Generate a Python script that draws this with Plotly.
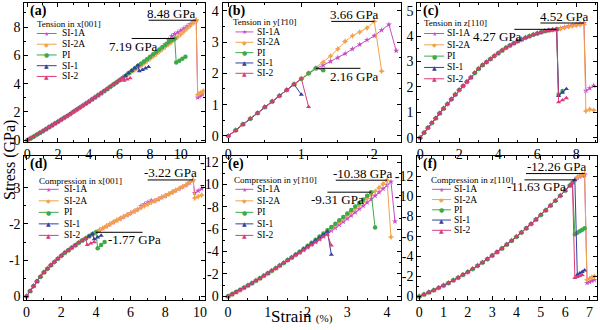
import plotly.graph_objects as go

W, H = 600, 330
FONT = "Liberation Serif, Times New Roman, serif"

NAMES = ["SI-1A", "SI-2A", "PI", "SI-1", "SI-2"]
COLORS = {"SI-1A": "#c84cc8", "SI-2A": "#f2a24a", "PI": "#3daa48",
          "SI-1": "#343f9e", "SI-2": "#dc3a78"}
SYMBOLS = {"SI-1A": "star", "SI-2A": "star-diamond", "PI": "circle",
           "SI-1": "triangle-up", "SI-2": "triangle-up"}
GLYPHS = {"SI-1A": "\u2605", "SI-2A": "\u25c6", "PI": "\u25cf", "SI-1": "\u25b2", "SI-2": "\u25b2"}

# ---------------- (a) tension along x[001] ----------------
a_strain = [0.0, 0.2, 0.4, 0.6, 0.8, 1.0, 1.2, 1.4, 1.6, 1.8, 2.0, 2.2, 2.4, 2.6, 2.8, 3.0,
            3.2, 3.4, 3.6, 3.8, 4.0, 4.2, 4.4, 4.6, 4.8, 5.0, 5.2, 5.4, 5.6, 5.8, 6.0, 6.2, 6.4]
a_base = [0.0, 0.13, 0.25, 0.38, 0.51, 0.64, 0.77, 0.91, 1.04, 1.18, 1.31, 1.45, 1.59, 1.72,
          1.86, 2.01, 2.15, 2.29, 2.43, 2.58, 2.72, 2.87, 3.02, 3.17, 3.32, 3.47, 3.62, 3.78,
          3.93, 4.08, 4.24, 4.40, 4.56]
a_long_x = [6.6, 6.8, 7.0, 7.2, 7.4, 7.6, 7.8, 8.0, 8.2, 8.4, 8.6, 8.8, 9.0, 9.2, 9.4, 9.6,
            9.8, 10.0, 10.2, 10.4, 10.6, 10.8, 11.0]
a_si2a_tail = [4.69, 4.83, 4.97, 5.12, 5.27, 5.43, 5.59, 5.75, 5.92, 6.09, 6.26, 6.43, 6.60,
               6.77, 6.94, 7.12, 7.30, 7.49, 7.68, 7.88, 8.08, 8.28, 8.48]
a_si1a_tail = [4.72, 4.88, 5.04, 5.20, 5.36, 5.53, 5.69, 5.86, 6.03, 6.20, 6.36, 6.54, 6.78,
               7.10, 7.35, 7.50, 7.62, 7.76, 7.90, 8.04, 8.19, 8.34, 8.48]
a_pi_tail = [4.75, 4.91, 5.08, 5.24, 5.40, 5.57, 5.73, 5.90, 6.07, 6.24, 6.41, 6.58, 6.75,
             6.92, 7.06, 7.19]
a_series = {
    "SI-1A": (33, a_long_x + [11.1, 11.2, 11.3, 11.4], a_si1a_tail + [3.02, 3.10, 3.18, 3.25]),
    "SI-2A": (33, a_long_x + [11.1, 11.2, 11.3, 11.4, 11.5], a_si2a_tail + [3.22, 3.28, 3.35, 3.42, 3.48]),
    "PI": (33, a_long_x[:16] + [9.7, 9.9, 10.1, 10.3], a_pi_tail + [5.49, 5.62, 5.76, 5.90]),
    "SI-1": (33, [6.6, 6.8, 7.0, 7.2, 7.3, 7.5, 7.7, 7.9], [4.74, 4.92, 5.10, 5.30, 4.88, 4.98, 5.08, 5.18]),
    "SI-2": (32, [6.3, 6.5, 6.7], [4.22, 4.30, 4.38]),
}

# ---------------- (b) tension along y[1-10] ----------------
b_strain = [0.0, 0.1, 0.2, 0.3, 0.4, 0.5, 0.6, 0.7, 0.8, 0.9, 1.0, 1.1, 1.2]
b_base = [0.0, 0.18, 0.37, 0.55, 0.73, 0.92, 1.10, 1.28, 1.47, 1.65, 1.83, 2.00, 2.16]
b_series = {
    "SI-1A": (13, [1.3, 1.4, 1.5, 1.6, 1.7, 1.8, 1.9, 2.0, 2.1, 2.2, 2.3],
              [2.26, 2.38, 2.50, 2.63, 2.78, 2.92, 3.07, 3.20, 3.38, 3.56, 2.72]),
    "SI-2A": (13, [1.3, 1.4, 1.5, 1.6, 1.7, 1.8, 1.9, 2.0, 2.1],
              [2.35, 2.55, 2.78, 3.02, 3.20, 3.32, 3.45, 3.66, 2.07]),
    "PI": (13, [1.3], [2.10]),
    "SI-1": (10, [1.0], [1.32]),
    "SI-2": (11, [1.1], [0.93]),
}

# ---------------- (c) tension along z[110] ----------------
c_strain = [0.0, 0.2, 0.4, 0.6, 0.8, 1.0, 1.2, 1.4, 1.6, 1.8, 2.0, 2.2, 2.4, 2.6, 2.8, 3.0,
            3.2, 3.4, 3.6, 3.8, 4.0, 4.2, 4.4, 4.6, 4.8, 5.0, 5.2, 5.4, 5.6, 5.8, 6.0, 6.2,
            6.4, 6.6, 6.8, 7.0]
c_base = [0.0, 0.20, 0.39, 0.58, 0.77, 0.96, 1.15, 1.33, 1.52, 1.70, 1.88, 2.04, 2.20, 2.37,
          2.55, 2.72, 2.86, 2.98, 3.10, 3.22, 3.33, 3.44, 3.54, 3.63, 3.72, 3.80, 3.87, 3.94,
          4.00, 4.06, 4.11, 4.16, 4.20, 4.23, 4.25, 4.27]
c_long_x = [7.2, 7.4, 7.6, 7.8, 8.0, 8.2, 8.4, 8.5, 8.7, 8.9]
c_series = {
    "SI-1A": (36, c_long_x, [4.31, 4.35, 4.39, 4.43, 4.46, 4.49, 4.52, 1.85, 1.95, 2.05]),
    "SI-2A": (36, c_long_x, [4.30, 4.34, 4.38, 4.41, 4.43, 4.45, 4.47, 1.05, 1.12, 1.08]),
    "PI": (36, [7.1, 7.3], [1.70, 1.84]),
    "SI-1": (36, [7.1, 7.3, 7.5], [1.65, 1.78, 1.92]),
    "SI-2": (36, [7.1, 7.3, 7.5], [1.40, 1.48, 1.56]),
}

# ---------------- (d) compression along x[001] ----------------
d_strain = [0.0, 0.2, 0.4, 0.6, 0.8, 1.0, 1.2, 1.4, 1.6, 1.8, 2.0, 2.2, 2.4, 2.6, 2.8, 3.0,
            3.2, 3.4, 3.6, 3.8, 4.0, 4.2, 4.4, 4.6, 4.8, 5.0, 5.2, 5.4, 5.6, 5.8, 6.0, 6.2,
            6.4, 6.6, 6.8, 7.0, 7.2, 7.4, 7.6, 7.8, 8.0, 8.2, 8.4, 8.6, 8.8, 9.0, 9.2, 9.4, 9.6]
d_base = [0.0, -0.14, -0.28, -0.41, -0.54, -0.66, -0.76, -0.86, -0.95, -1.04, -1.12, -1.20,
          -1.27, -1.34, -1.41, -1.48, -1.54, -1.60, -1.66, -1.72, -1.77, -1.83, -1.88, -1.94,
          -1.99, -2.05, -2.10, -2.15, -2.20, -2.25, -2.30, -2.35, -2.40, -2.45, -2.50, -2.55,
          -2.60, -2.64, -2.69, -2.74, -2.78, -2.83, -2.88, -2.93, -2.98, -3.03, -3.08, -3.15,
          -3.22]
d_series = {
    "SI-1A": (33, d_strain[33:] + [9.7, 9.9, 10.1],
              [-2.50, -2.55, -2.60, -2.65, -2.64, -2.69, -2.74, -2.78, -2.83, -2.88, -2.93,
               -2.98, -3.03, -3.08, -3.15, -3.22, -2.86, -2.92, -2.98]),
    "SI-2A": (49, [9.7, 9.9, 10.1], [-2.72, -2.76, -2.80]),
    "PI": (21, [4.1, 4.3, 4.5], [-1.33, -1.42, -1.50]),
    "SI-1": (20, [3.9, 4.1, 4.3], [-1.58, -1.63, -1.68]),
    "SI-2": (18, [3.5, 3.7, 3.9], [-1.42, -1.46, -1.50]),
}

# ---------------- (e) compression along y[1-10] ----------------
e_strain = [0.0, 0.1, 0.2, 0.3, 0.4, 0.5, 0.6, 0.7, 0.8, 0.9, 1.0, 1.1, 1.2, 1.3, 1.4, 1.5]
e_base = [0.0, -0.19, -0.38, -0.57, -0.77, -0.98, -1.18, -1.40, -1.61, -1.83, -2.06, -2.28,
          -2.52, -2.75, -2.99, -3.24]
e_tail_x = [1.6, 1.7, 1.8, 1.9, 2.0, 2.1, 2.2, 2.3, 2.4, 2.5, 2.6, 2.7, 2.8, 2.9, 3.0, 3.1,
            3.2, 3.3, 3.4, 3.5, 3.6, 3.7, 3.8, 3.9, 4.0, 4.1, 4.2]
e_si1a_tail = [-3.45, -3.68, -3.90, -4.14, -4.37, -4.61, -4.85, -5.10, -5.35, -5.61, -5.87,
               -6.13, -6.40, -6.67, -6.95, -7.23, -7.51, -7.80, -8.09, -8.39, -8.68, -8.99,
               -9.30, -9.61, -9.93, -10.25, -6.70]
e_si2a_tail = [-3.47, -3.72, -3.95, -4.21, -4.46, -4.72, -4.98, -5.24, -5.51, -5.79, -6.07,
               -6.35, -6.63, -6.92, -7.22, -7.52, -7.82, -8.12, -8.43, -8.75, -9.06, -9.39,
               -9.71, -10.04, -10.38, -5.30]
e_pi_tail = [-3.48, -3.74, -3.99, -4.26, -4.52, -4.79, -5.06, -5.34, -5.62, -5.91, -6.20,
             -6.49, -6.79, -7.09, -7.40, -7.71, -8.02, -8.34, -8.66, -8.99, -9.31, -6.15]
e_series = {
    "SI-1A": (16, e_tail_x, e_si1a_tail),
    "SI-2A": (16, e_tail_x[:26], e_si2a_tail),
    "PI": (16, e_tail_x[:22], e_pi_tail),
    "SI-1": (16, e_tail_x[:11], [-3.47, -3.72, -3.95, -4.21, -4.46, -4.72, -4.98, -5.24,
                                 -5.51, -5.79, -3.72]),
    "SI-2": (16, e_tail_x[:11], [-3.45, -3.68, -3.90, -4.14, -4.37, -4.61, -4.85, -5.10,
                                 -5.35, -5.55, -4.55]),
}

# ---------------- (f) compression along z[110] ----------------
f_strain = [0.0, 0.2, 0.4, 0.6, 0.8, 1.0, 1.2, 1.4, 1.6, 1.8, 2.0, 2.2, 2.4, 2.6, 2.8, 3.0,
            3.2, 3.4, 3.6, 3.8, 4.0, 4.2, 4.4, 4.6, 4.8, 5.0, 5.2, 5.4, 5.6, 5.8, 6.0, 6.2, 6.4]
f_base = [0.0, -0.20, -0.40, -0.62, -0.85, -1.09, -1.33, -1.60, -1.87, -2.15, -2.44, -2.74,
          -3.06, -3.38, -3.72, -4.07, -4.42, -4.79, -5.17, -5.56, -5.96, -6.37, -6.79, -7.23,
          -7.67, -8.13, -8.59, -9.07, -9.55, -10.05, -10.56, -11.08, -11.63]
f_long_x = [6.5, 6.6, 6.7, 6.8, 6.9, 7.0, 7.1, 7.2]
f_series = {
    "SI-1A": (33, f_long_x, [-11.85, -11.95, -12.05, -12.12, -1.35, -1.45, -1.55, -1.65]),
    "SI-2A": (33, f_long_x, [-11.90, -12.05, -12.15, -12.26, -1.65, -1.78, -1.90, -2.00]),
    "PI": (32, [6.3, 6.4, 6.5, 6.6, 6.7, 6.8], [-11.35, -6.20, -6.35, -6.50, -6.65, -6.80]),
    "SI-1": (33, [6.5, 6.6, 6.7, 6.8], [-2.15, -2.30, -2.45, -2.60]),
    "SI-2": (32, [6.3, 6.4, 6.5, 6.6, 6.7], [-11.35, -1.85, -1.95, -2.05, -2.15]),
}

# ---------------- panel layout ----------------
COLS = [(22.5, 204), (222, 402), (418, 599)]   # pixel spans
ROWS = [(2, 144), (159, 306)]

panels = [
    dict(key="a", title="Tension in x[001]", strain=a_strain, base=a_base, series=a_series,
         col=0, row=0, xr=[-0.19, 11.55], yr=[-0.09, 9.7], xd=2, xm=1,
         yt=[0, 2, 4, 6, 8], ym=1,
         peaks=[("SI-2A", 7.9, 9.4, 7), ("PI", 6.8, 6.9, -8)],
         leg=dict(tx=35, ty=23.5, y0=33.3, dy=11.0, lx0=35, lx1=55, txt=60)),
    dict(key="b", title="Tension in y[1\u030410]", strain=b_strain, base=b_base, series=b_series,
         col=1, row=0, xr=[-0.08, 2.37], yr=[-0.18, 4.25], xd=1, xm=0.5,
         yt=[0, 1, 2, 3, 4], ym=0.5,
         peaks=[("SI-2A", 1.41, 1.73, 7), ("PI", None, 1.73, -8)],
         leg=dict(tx=233, ty=22, y0=31.7, dy=10.6, lx0=235, lx1=253, txt=257)),
    dict(key="c", title="Tension in z[110]", strain=c_strain, base=c_base, series=c_series,
         col=2, row=0, xr=[-0.15, 9.07], yr=[-0.15, 5.31], xd=2, xm=1,
         yt=[0, 1, 2, 3, 4, 5], ym=0.5,
         peaks=[("SI-1A", 6.17, 7.4, 7), ("SI-1", 4.83, 3.95, -7)],
         leg=dict(tx=425, ty=22.5, y0=33.3, dy=11.6, lx0=425, lx1=445, txt=448)),
    dict(key="d", title="Compression in x[001]", strain=d_strain, base=d_base, series=d_series,
         col=0, row=1, xr=[-0.13, 10.27], yr=[0.095, -3.88], xd=2, xm=1,
         yt=[0, -1, -2, -3], ym=0.5,
         peaks=[("SI-2A", 6.98, 8.3, 7), ("PI", None, 6.25, -7)],
         leg=dict(tx=37, ty=184, y0=193, dy=11.8, lx0=37, lx1=57, txt=62)),
    dict(key="e", title="Compression in y[1\u030410]", strain=e_strain, base=e_base, series=e_series,
         col=1, row=1, xr=[-0.14, 4.36], yr=[0.29, -12.53], xd=1, xm=0.5,
         yt=[0, -2, -4, -6, -8, -10, -12], ym=1,
         peaks=[("SI-2A", 2.71, 3.38, 7), ("PI", 2.5, 2.75, -7)],
         leg=dict(tx=234, ty=183.5, y0=193, dy=11.8, lx0=235, lx1=253, txt=257)),
    dict(key="f", title="Compression in z[110]", strain=f_strain, base=f_base, series=f_series,
         col=2, row=1, xr=[-0.08, 7.31], yr=[0.32, -14.0], xd=1, xm=0.5,
         yt=[0, -2, -4, -6, -8, -10, -12], ym=1,
         peaks=[("SI-2A", 4.39, 5.64, 7), ("SI-1", 4.33, 4.81, -7)],
         leg=dict(tx=432, ty=183.5, y0=193, dy=10.5, lx0=433, lx1=452, txt=455)),
]

# end points of the reference lines that run from the peak to the right
LINE_RIGHT = {"b": 1.81, "d": 6.69}


def px(x):
    return x / W


def py(y):
    return 1 - y / H


fig = go.Figure()
layout = dict(width=W, height=H, margin=dict(l=0, r=0, t=0, b=0),
              paper_bgcolor="white", plot_bgcolor="white", showlegend=False,
              font=dict(family=FONT, size=14, color="black"))
annotations = []
shapes = []

axis_common = dict(showline=True, linecolor="black", linewidth=1, mirror="allticks",
                   ticks="inside", ticklen=4, tickwidth=1, tickcolor="black",
                   showgrid=False, zeroline=False,
                   tickfont=dict(family=FONT, size=14, color="black"))

for i, p in enumerate(panels):
    n = "" if i == 0 else str(i + 1)
    xa, ya = "x" + n, "y" + n
    c0, c1 = COLS[p["col"]]
    r0, r1 = ROWS[p["row"]]
    layout["xaxis" + n] = dict(axis_common, domain=[px(c0), px(c1)], range=p["xr"],
                               anchor=ya, dtick=p["xd"], tick0=0,
                               minor=dict(ticks="inside", ticklen=2, tickwidth=1,
                                          tickcolor="black", dtick=p["xm"], showgrid=False))
    layout["yaxis" + n] = dict(axis_common, domain=[py(r1), py(r0)], range=p["yr"],
                               anchor=xa, tickmode="array", tickvals=p["yt"],
                               ticktext=[str(v) for v in p["yt"]],
                               minor=dict(ticks="inside", ticklen=2, tickwidth=1,
                                          tickcolor="black", dtick=p["ym"], showgrid=False))

    # curves
    curves = {}
    for name in NAMES:
        k, tx, ty = p["series"][name]
        xs = p["strain"][:k] + tx
        ys = p["base"][:k] + ty
        curves[name] = (xs, ys)
        fig.add_trace(go.Scatter(
            x=xs, y=ys, mode="lines+markers", name=name, xaxis=xa, yaxis=ya,
            line=dict(color=COLORS[name], width=1),
            marker=dict(symbol=SYMBOLS[name], size=4.5, color=COLORS[name],
                        line=dict(width=0)),
            hoverinfo="skip"))

    # peak lines with their values
    for name, x_start, x_text, shift in p["peaks"]:
        xs, ys = curves[name]
        if p["row"] == 0:
            j = max(range(len(ys)), key=lambda t: ys[t])
        else:
            j = min(range(len(ys)), key=lambda t: ys[t])
        xpk, ypk = xs[j], ys[j]
        if x_start is None:
            x0, x1 = xpk, LINE_RIGHT[p["key"]]
        else:
            x0, x1 = x_start, xpk
        shapes.append(dict(type="line", xref=xa, yref=ya, x0=x0, x1=x1, y0=ypk, y1=ypk,
                           line=dict(color="black", width=1)))
        annotations.append(dict(xref=xa, yref=ya, x=x_text, y=ypk, yshift=shift,
                                text=f"{ypk:.2f} GPa", showarrow=False,
                                xanchor="center", yanchor="middle", borderpad=0,
                                font=dict(family=FONT, size=13, color="black")))

    # panel tag
    annotations.append(dict(xref="paper", yref="paper", x=px(c0 + 5), y=py(r0 + 8),
                            text=f"<b>({p['key']})</b>", showarrow=False,
                            xanchor="left", yanchor="middle", borderpad=0,
                            font=dict(family=FONT, size=14, color="black")))

    # legend block
    lg = p["leg"]
    annotations.append(dict(xref="paper", yref="paper", x=px(lg["tx"] - 1), y=py(lg["ty"]),
                            text=p["title"], showarrow=False, xanchor="left", borderpad=0,
                            yanchor="middle", font=dict(family=FONT, size=9, color="black")))
    for r, name in enumerate(NAMES):
        yy = lg["y0"] + r * lg["dy"]
        shapes.append(dict(type="line", xref="paper", yref="paper",
                           x0=px(lg["lx0"]), x1=px(lg["lx1"]), y0=py(yy), y1=py(yy),
                           line=dict(color=COLORS[name], width=1)))
        annotations.append(dict(xref="paper", yref="paper",
                                x=px((lg["lx0"] + lg["lx1"]) / 2), y=py(yy),
                                text=GLYPHS[name], showarrow=False, xanchor="center",
                                yanchor="middle", borderpad=0,
                                font=dict(family="DejaVu Sans", size=6, color=COLORS[name])))
        annotations.append(dict(xref="paper", yref="paper", x=px(lg["txt"] - 1), y=py(yy),
                                text=name, showarrow=False, xanchor="left",
                                yanchor="middle", borderpad=0,
                                font=dict(family=FONT, size=9.5, color="black")))

# shared axis titles
annotations.append(dict(xref="paper", yref="paper", x=px(8), y=py(163), text="Stress (GPa)",
                        textangle=-90, showarrow=False, xanchor="center", yanchor="middle",
                        font=dict(family=FONT, size=16, color="black")))
annotations.append(dict(xref="paper", yref="paper", x=px(302), y=py(323),
                        text="Strain <span style='font-size:11px'>(%)</span>",
                        showarrow=False, xanchor="center", yanchor="middle", borderpad=0,
                        font=dict(family=FONT, size=17, color="black")))

layout["annotations"] = annotations
layout["shapes"] = shapes
fig.update_layout(**layout)
fig.write_html("out.html")
